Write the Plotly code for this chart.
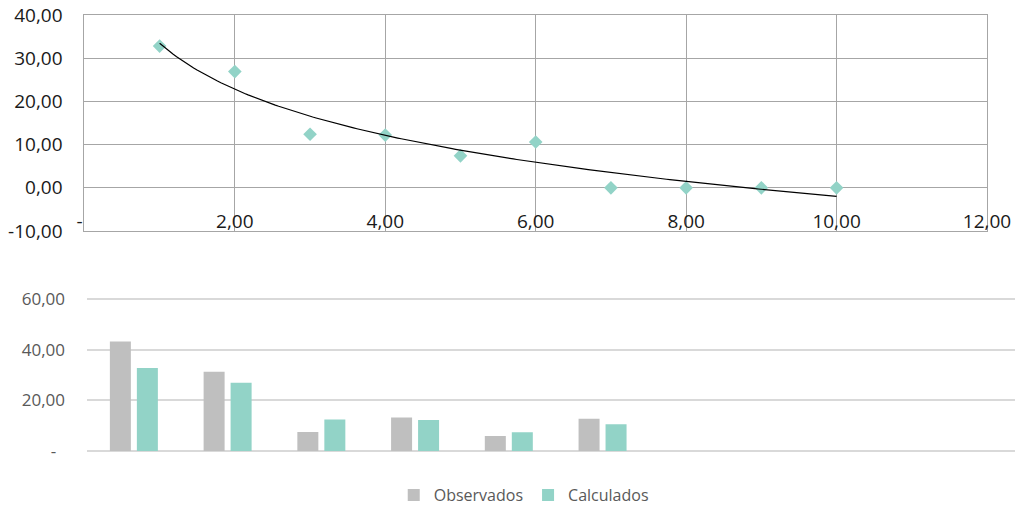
import numpy as np
import plotly.graph_objects as go

# Period index (1..10) and the two series
periodos = [1, 2, 3, 4, 5, 6, 7, 8, 9, 10]
observados = [43.2, 31.3, 7.5, 13.2, 5.9, 12.7, 0, 0, 0, 0]
calculados = [32.8, 26.9, 12.4, 12.2, 7.4, 10.6, 0, 0, 0, 0]

# Axis tick labels (accounting style, decimal comma)
top_y_vals = [-10, 0, 10, 20, 30, 40]
top_y_text = ["-10,00", "0,00", "10,00", "20,00", "30,00", "40,00"]
top_x_vals = [0, 2, 4, 6, 8, 10, 12]
top_x_text = ["-\u00a0\u00a0", "2,00", "4,00", "6,00", "8,00", "10,00", "12,00"]
bot_y_vals = [0, 20, 40, 60]
bot_y_text = ["-\u00a0\u00a0", "20,00", "40,00", "60,00"]

TEAL = "#92d3c7"
GRAY = "#bfbfbf"
W, H = 1015, 506

# Logarithmic trend line (least squares on ln x)
a, b = np.polyfit(np.log(periodos), calculados, 1)
xt = np.linspace(periodos[0], periodos[-1], 200)
yt = a * np.log(xt) + b

fig = go.Figure()

fig.add_trace(go.Scatter(
    x=periodos, y=calculados, mode="markers",
    marker=dict(symbol="diamond", size=10.5, color=TEAL),
    xaxis="x", yaxis="y", showlegend=False, hoverinfo="skip",
))
fig.add_trace(go.Scatter(
    x=xt, y=yt, mode="lines", line=dict(color="#000000", width=1.2),
    xaxis="x", yaxis="y", showlegend=False, hoverinfo="skip",
))

fig.add_trace(go.Bar(
    x=periodos, y=observados, name="Observados", marker=dict(color=GRAY, line_width=0),
    xaxis="x2", yaxis="y2",
))
fig.add_trace(go.Bar(
    x=periodos, y=calculados, name="Calculados", marker=dict(color=TEAL, line_width=0),
    xaxis="x2", yaxis="y2",
))

grid_top = "#a6a6a6"
grid_bot = "#d9d9d9"

# bottom panel: 0 at y=451 px, 60 at y=299 px, with a small pad each side
pad = 0.6
ppu = (451 - 299) / 60.0

fig.update_layout(
    width=W, height=H,
    margin=dict(l=0, r=0, t=0, b=0, autoexpand=False),
    paper_bgcolor="white", plot_bgcolor="white",
    font=dict(family="Open Sans, Liberation Sans, sans-serif"),
    barmode="group", bargap=0.424, bargroupgap=0.222,
    xaxis=dict(
        domain=[84.4 / W, 987 / W], range=[0, 12], anchor="y",
        tickvals=top_x_vals, ticktext=top_x_text,
        ticklabelposition="inside", ticklabeloverflow="allow",
        showgrid=True, gridcolor=grid_top, gridwidth=1,
        showline=True, linecolor=grid_top, linewidth=1, mirror=True,
        zeroline=False, ticks="",
        tickfont=dict(size=19, color="#1a1a1a"),
    ),
    yaxis=dict(
        domain=[1 - 231 / H, 1 - 15 / H], range=[-10, 40], anchor="x",
        tickvals=top_y_vals, ticktext=top_y_text,
        showgrid=True, gridcolor=grid_top, gridwidth=1,
        showline=True, linecolor=grid_top, linewidth=1, mirror=True,
        zeroline=False, ticks="", ticklabelstandoff=17,
        tickfont=dict(size=19, color="#1a1a1a"),
    ),
    xaxis2=dict(
        domain=[87 / W, 1.0], range=[0.5, 10.4], anchor="y2",
        showticklabels=False, showgrid=False, zeroline=False,
        showline=False, ticks="",
    ),
    yaxis2=dict(
        domain=[1 - (451 + pad * ppu) / H, 1 - (299 - pad * ppu) / H],
        range=[-pad, 60 + pad], anchor="x2",
        tickvals=bot_y_vals, ticktext=bot_y_text,
        showgrid=True, gridcolor=grid_bot, gridwidth=1.5,
        zeroline=False, showline=False, ticks="", ticklabelstandoff=21,
        tickfont=dict(size=17, color="#595959"),
    ),
    legend=dict(
        orientation="h", x=0.516, xanchor="center", y=1 - 495 / H, yanchor="middle",
        font=dict(size=16, color="#595959"),
        itemwidth=30, traceorder="normal",
    ),
)

fig.write_html("out.html")
